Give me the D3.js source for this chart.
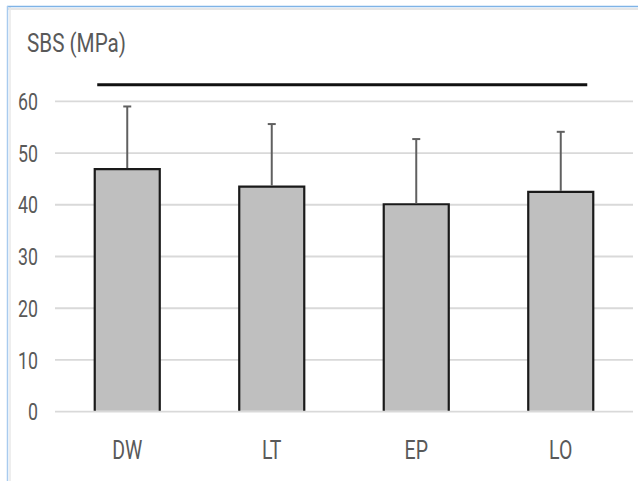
<!DOCTYPE html>
<html>
<head>
<meta charset="utf-8">
<script src="https://cdn.jsdelivr.net/npm/d3@7"></script>
<style>
  html, body { margin: 0; padding: 0; background: #fff; }
  svg { display: block; }
</style>
</head>
<body>
<script>
// ---- data ----
const categories = ["DW", "LT", "EP", "LO"];
const means = [46.9, 43.5, 40.1, 42.5];
const errorTops = [59.0, 55.6, 52.7, 54.1];
const yTicks = [0, 10, 20, 30, 40, 50, 60];
const sigLevel = 63.2;
const yTitle = "SBS (MPa)";

const W = 638, H = 481;
const svg = d3.select("body").append("svg").attr("width", W).attr("height", H);

// frame
svg.append("line").attr("x1", 8).attr("x2", W).attr("y1", 9).attr("y2", 9)
  .attr("stroke", "#e6e6e6").attr("stroke-width", 2);
svg.append("line").attr("x1", 10).attr("x2", 10).attr("y1", 7).attr("y2", H)
  .attr("stroke", "#e8e8e8").attr("stroke-width", 1.5);
svg.append("line").attr("x1", 7).attr("x2", W).attr("y1", 6.5).attr("y2", 6.5)
  .attr("stroke", "#7fb3e6").attr("stroke-width", 1.5);
svg.append("line").attr("x1", 7.5).attr("x2", 7.5).attr("y1", 6).attr("y2", H)
  .attr("stroke", "#a9cbee").attr("stroke-width", 1.5);

const x = d3.scaleBand().domain(categories).range([55, 633])
  .paddingInner(0.55).paddingOuter(0.275);
const y = d3.scaleLinear().domain([0, 60]).range([411.7, 101.3]);

// gridlines
svg.append("g").selectAll("line").data(yTicks).join("line")
  .attr("x1", 55).attr("x2", 633)
  .attr("y1", d => y(d)).attr("y2", d => y(d))
  .attr("stroke", "#d9d9d9").attr("stroke-width", 1.8);

// y tick labels
svg.append("g").selectAll("text").data(yTicks).join("text")
  .attr("transform", d => `translate(38,${y(d)}) scale(0.74,1)`)
  .attr("text-anchor", "end").attr("dy", "0.36em")
  .attr("font-family", "Roboto").attr("font-size", 24).attr("fill", "#595959")
  .text(d => d);

// title
svg.append("text").attr("transform", "translate(27,52) scale(0.78,1)")
  .attr("font-family", "Roboto").attr("font-size", 26.5).attr("fill", "#595959")
  .text(yTitle);

const bw = x.bandwidth();
const data = categories.map((c, i) => ({ c, m: means[i], e: errorTops[i] }));

// bars
const bars = svg.append("g");
bars.selectAll("rect").data(data).join("rect")
  .attr("x", d => x(d.c)).attr("width", bw)
  .attr("y", d => y(d.m)).attr("height", d => y(0) - 1 - y(d.m))
  .attr("fill", "#bfbfbf");
bars.selectAll("path").data(data).join("path")
  .attr("d", d => `M${x(d.c)},${y(0) - 1}V${y(d.m)}H${x(d.c) + bw}V${y(0) - 1}`)
  .attr("fill", "none").attr("stroke", "#1a1a1a").attr("stroke-width", 2.2);

// error bars
const eb = svg.append("g").attr("stroke", "#606060").attr("stroke-width", 2);
eb.selectAll("line.v").data(data).join("line").attr("class", "v")
  .attr("x1", d => x(d.c) + bw / 2).attr("x2", d => x(d.c) + bw / 2)
  .attr("y1", d => y(d.m) - 1).attr("y2", d => y(d.e));
eb.selectAll("line.c").data(data).join("line").attr("class", "c")
  .attr("x1", d => x(d.c) + bw / 2 - 4).attr("x2", d => x(d.c) + bw / 2 + 4)
  .attr("y1", d => y(d.e)).attr("y2", d => y(d.e));

// significance line
svg.append("line")
  .attr("x1", x(categories[0]) + 2.5).attr("x2", x(categories[3]) + bw - 6)
  .attr("y1", y(sigLevel)).attr("y2", y(sigLevel))
  .attr("stroke", "#111").attr("stroke-width", 3);

// category labels
svg.append("g").selectAll("text").data(categories).join("text")
  .attr("transform", d => `translate(${x(d) + bw / 2},459) scale(0.75,1)`)
  .attr("text-anchor", "middle")
  .attr("font-family", "Roboto").attr("font-size", 26).attr("fill", "#595959")
  .text(d => d);
</script>
</body>
</html>
